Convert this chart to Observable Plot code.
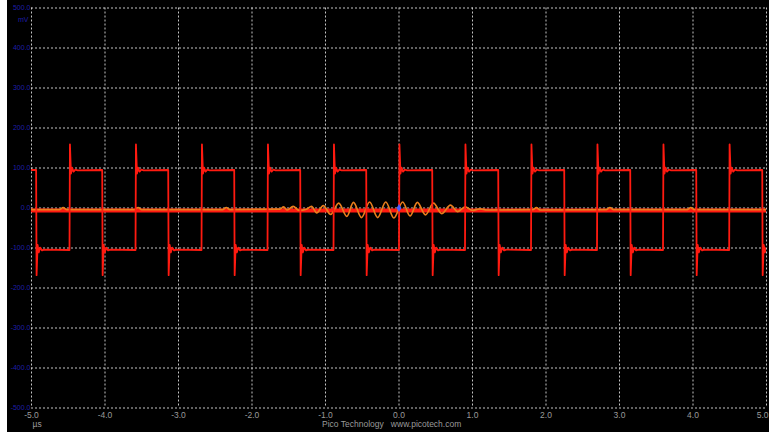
<!DOCTYPE html>
<html><head><meta charset="utf-8">
<script src="https://cdn.jsdelivr.net/npm/d3@7"></script>
<script src="https://cdn.jsdelivr.net/npm/@observablehq/plot@0.6"></script>
<style>
html,body{margin:0;padding:0;background:#000;width:769px;height:432px;overflow:hidden}
#chart{position:absolute;left:0;top:0}
#strip{position:absolute;left:0;top:0;width:7px;height:432px;background:#fff}
</style></head><body>
<div id="chart"></div><div id="strip"></div>
<script>
// Axis ticks
const xTicks = [-5, -4, -3, -2, -1, 0, 1, 2, 3, 4, 5];
const yTicks = [-500, -400, -300, -200, -100, 0, 100, 200, 300, 400, 500];

// Channel A square wave: edge times (µs)
const risingEdges = [-4.483, -3.585, -2.687, -1.789, -0.891, 0.0, 0.898, 1.796, 2.694, 3.592, 4.492];
const fallingEdges = [-4.937, -4.038, -3.140, -2.242, -1.344, -0.446, 0.452, 1.350, 2.248, 3.146, 4.044, 4.942];
// Edge shapes (time offset µs, level mV)
const riseDt = [0, 0.006, 0.02, 0.035, 0.055, 0.08, 0.11];
const riseMv = [-105, 159, 86, 101, 91, 96, 94];
const fallDt = [0, 0.006, 0.02, 0.035, 0.055, 0.08, 0.11];
const fallMv = [95, -168, -92, -111, -99, -106, -104];
const startMv = 95;

// Channel B flat trace level (mV)
const chBLevel = -6;

// Orange trace points
const orangeT = [-5, -4.62, -4.57, -4.52, -3.6, -3.55, -3.5, -2.4, -2.35, -2.3, -1.62, -1.57, -1.52, -1.44, -1.36, -1.26, -1.19, -1.12, -1.03, -0.93, -0.82, -0.71, -0.62, -0.51, -0.40, -0.29, -0.18, -0.07, 0.05, 0.15, 0.25, 0.36, 0.47, 0.58, 0.70, 0.80, 0.90, 1.0, 1.1, 1.2, 1.82, 1.87, 1.92, 2.82, 2.87, 2.92, 3.92, 3.97, 4.02, 5];
const orangeMv = [-4, -4, 1, -4, -4, 1, -4, -4, 1, -4, -3, 3, -5, 4, -6, -3, 4, -12, 6, -16, 12, -21, 14, -24, 15, -24, 15, -25, 15, -20, 14, -17, 12, -14, 7, -9, 3, -6, -2, -5, -4, 1, -5, -4, 1, -4, -4, 1, -4, -4];

// Build tables from the arrays
const edges = [
  ...risingEdges.map(t => ({t, dt: riseDt, mv: riseMv})),
  ...fallingEdges.map(t => ({t, dt: fallDt, mv: fallMv}))
].sort((a, b) => a.t - b.t);
const chA = [{t: -5, v: startMv}];
for (const e of edges) e.dt.forEach((d, i) => chA.push({t: e.t + d, v: e.mv[i]}));
const chB = [{t: -5, v: chBLevel}, {t: 5, v: chBLevel}];
const orange = orangeT.map((t, i) => ({t, v: orangeMv[i]}));

const gridStyle = {stroke: "#c4c4c4", strokeDasharray: "2,2", strokeWidth: 1};
const fmt = d => d.toFixed(1);
const lastX = xTicks[xTicks.length - 1];

const chart = Plot.plot({
  width: 769, height: 432,
  marginLeft: 31, marginRight: 3, marginTop: 7.5, marginBottom: 24.5,
  style: {background: "#000", color: "#9a9a9a", fontFamily: "Liberation Sans, Arial, sans-serif", fontSize: "8.5px", overflow: "visible"},
  x: {domain: [-5, 5]},
  y: {domain: [-500, 500]},
  marks: [
    Plot.ruleX(xTicks, gridStyle),
    Plot.ruleY(yTicks, gridStyle),
    Plot.axisX(xTicks.slice(0, -1), {tickSize: 0, tickPadding: 4, tickFormat: fmt, fill: "#9a9a9a", label: null}),
    Plot.axisX([lastX], {tickSize: 0, tickPadding: 4, tickFormat: fmt, fill: "#9a9a9a", label: null, textAnchor: "end", dx: 2}),
    Plot.axisY(yTicks, {tickSize: 0, tickPadding: 1, tickFormat: fmt, fill: "#1e1ea8", fontSize: 7, label: null}),
    Plot.text(["mV"], {x: -5, y: 471, textAnchor: "end", dx: -3, fill: "#1e1ea8", fontSize: 7}),
    Plot.text(["µs"], {x: -5, frameAnchor: "bottom", dy: 19, dx: 1, textAnchor: "start", fill: "#9a9a9a"}),
    Plot.text(["Pico Technology\u00a0\u00a0\u00a0www.picotech.com"], {x: -0.1, frameAnchor: "bottom", dy: 19, textAnchor: "middle", fill: "#9a9a9a"}),
    Plot.line(chB, {x: "t", y: "v", stroke: "#ff1a10", strokeWidth: 4, clip: true}),
    Plot.line(orange, {x: "t", y: "v", stroke: "#ea7e1c", strokeWidth: 1.7, curve: "monotone-x", clip: true}),
    Plot.line(chA, {x: "t", y: "v", stroke: "#ff1a10", strokeWidth: 1.8, clip: true}),
    Plot.dot([{t: 0, v: 0}], {x: "t", y: "v", symbol: "diamond", r: 2.5, fill: "#4a5cff", stroke: "none"})
  ]
});
document.getElementById("chart").appendChild(chart);
</script>
</body></html>
